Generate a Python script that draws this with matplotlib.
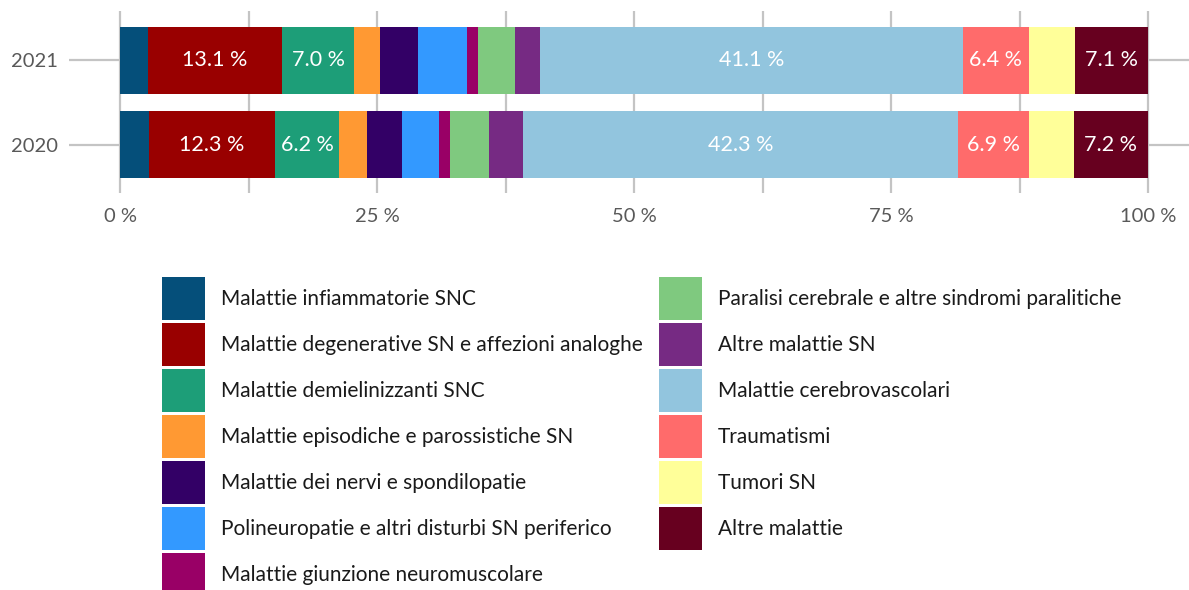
import matplotlib
matplotlib.use("Agg")
import matplotlib.pyplot as plt
import numpy as np

YEARS = ["2020", "2021"]

CATEGORIES = [
    "Malattie infiammatorie SNC",
    "Malattie degenerative SN e affezioni analoghe",
    "Malattie demielinizzanti SNC",
    "Malattie episodiche e parossistiche SN",
    "Malattie dei nervi e spondilopatie",
    "Polineuropatie e altri disturbi SN periferico",
    "Malattie giunzione neuromuscolare",
    "Paralisi cerebrale e altre sindromi paralitiche",
    "Altre malattie SN",
    "Malattie cerebrovascolari",
    "Traumatismi",
    "Tumori SN",
    "Altre malattie",
]

# shares in %, one list per year, same order as CATEGORIES
SHARES_2020 = [2.8, 12.3, 6.2, 2.7, 3.4, 3.6, 1.1, 3.8, 3.3, 42.3, 6.9, 4.4, 7.2]
SHARES_2021 = [2.7, 13.1, 7.0, 2.5, 3.7, 4.8, 1.0, 3.6, 2.5, 41.1, 6.4, 4.5, 7.1]

COLORS = [
    "#054f7a",
    "#990000",
    "#1d9e78",
    "#ff9933",
    "#330066",
    "#3399ff",
    "#990066",
    "#7fc97f",
    "#762a83",
    "#92c5de",
    "#ff6b6b",
    "#ffff99",
    "#67001f",
]

XTICKS = [0, 25, 50, 75, 100]
XTICK_LABELS = ["0 %", "25 %", "50 %", "75 %", "100 %"]

LABEL_MIN = 6.0

plt.rcParams["font.family"] = ["Lato", "DejaVu Sans"]

fig = plt.figure(figsize=(11.89, 5.90), dpi=100)
ax = fig.add_axes([69 / 1189, 1 - 193 / 590, 1120 / 1189, 182 / 590])

shares = np.array([SHARES_2020, SHARES_2021])
y = np.arange(len(YEARS))
left = np.zeros(len(YEARS))
handles = []
for i, (name, color) in enumerate(zip(CATEGORIES, COLORS)):
    widths = shares[:, i]
    bars = ax.barh(y, widths, left=left, height=0.8, color=color,
                   label=name, zorder=3)
    handles.append(bars)
    for yy, l0, w in zip(y, left, widths):
        if w >= LABEL_MIN:
            ax.text(l0 + w / 2, yy, f"{w:.1f} %", ha="center", va="center",
                    color="white", fontsize=15.5, zorder=4)
    left = left + widths

ax.set_xlim(-51 / 10.28, 100 + 41 / 10.28)
ax.set_ylim(-0.577, 1.589)
ax.set_yticks(y)
ax.set_yticklabels(YEARS)
ax.set_xticks(XTICKS)
ax.set_xticklabels(XTICK_LABELS)
ax.set_xticks(np.arange(12.5, 100, 25), minor=True)

for spine in ax.spines.values():
    spine.set_visible(False)

ax.tick_params(axis="both", which="both", length=0, labelsize=14.5,
               labelcolor="#595959")
ax.tick_params(axis="y", pad=8)
ax.tick_params(axis="x", pad=11)
ax.grid(axis="x", which="both", color="#c4c4c4", linewidth=1.6, zorder=0)
ax.grid(axis="y", color="#c4c4c4", linewidth=1.6, zorder=0)
ax.set_axisbelow(True)

fig.legend(
    handles=handles,
    labels=CATEGORIES,
    ncol=2,
    loc="upper left",
    bbox_to_anchor=(162 / 1189, 1 - 277 / 590),
    frameon=False,
    fontsize=15,
    handlelength=2.07,
    handleheight=2.80,
    handletextpad=0.76,
    labelspacing=0.144,
    columnspacing=0.76,
    borderpad=0,
    borderaxespad=0,
    labelcolor="#1a1a1a",
)

fig.savefig("out.png", dpi=100)
